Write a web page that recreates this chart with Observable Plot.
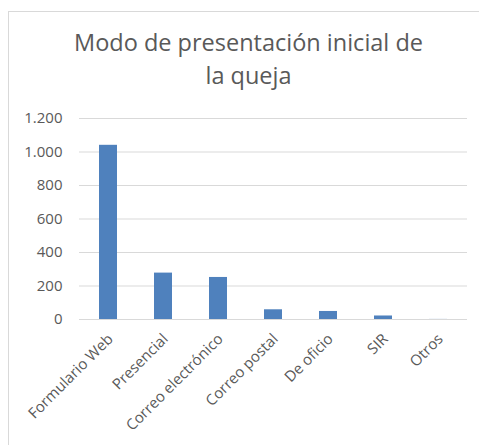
<!DOCTYPE html>
<html>
<head>
<meta charset="utf-8">
<script src="https://cdn.jsdelivr.net/npm/d3@7"></script>
<script src="https://cdn.jsdelivr.net/npm/@observablehq/plot@0.6"></script>
<style>
  html, body { margin: 0; padding: 0; background: #fff; width: 479px; height: 445px; overflow: hidden; }
  #frame { position: absolute; left: 8px; top: 11px; width: 480px; height: 440px; border-left: 1px solid #d9d9d9; border-top: 1px solid #d9d9d9; }
  #title { position: absolute; left: 0; top: 26px; width: 497px; text-align: center; font-family: "Open Sans", sans-serif; font-size: 23.5px; line-height: 33px; color: #595959; }
  #chart { position: absolute; left: 0; top: 0; }
</style>
</head>
<body>
<div id="frame"></div>
<div id="chart"></div>
<div id="title">Modo de presentación inicial de<br>la queja</div>
<script>
const categories = ["Formulario Web", "Presencial", "Correo electrónico", "Correo postal", "De oficio", "SIR", "Otros"];
const values = [1040, 277, 251, 58, 48, 21, 0.5];
const yTicks = [0, 200, 400, 600, 800, 1000, 1200];

const data = categories.map((c, i) => ({cat: c, val: values[i]}));
const fmt = d3.formatLocale({decimal: ",", thousands: ".", grouping: [3], currency: ["", "€"]}).format(",");

const chart = Plot.plot({
  width: 479,
  height: 445,
  marginLeft: 79,
  marginRight: 12,
  marginTop: 118,
  marginBottom: 126,
  style: {fontFamily: "Open Sans, sans-serif", background: "transparent", overflow: "visible"},
  x: {domain: categories, paddingInner: 0.68, paddingOuter: 0.34, axis: null, label: null},
  y: {domain: [0, 1200], axis: null, label: null},
  marks: [
    Plot.gridY(yTicks, {stroke: "#d9d9d9", strokeOpacity: 1, strokeWidth: 1}),
    Plot.axisY(yTicks, {tickSize: 0, tickPadding: 17, tickFormat: fmt, fill: "#595959", fontSize: 15, label: null}),
    Plot.barY(data, {x: "cat", y: "val", fill: "#4f81bd"}),
    Plot.text(data, {x: "cat", y: 0, text: "cat", rotate: -45, textAnchor: "end", lineAnchor: "middle", dx: 2, dy: 17, fill: "#595959", fontSize: 15})
  ]
});
document.getElementById("chart").appendChild(chart);
</script>
</body>
</html>
